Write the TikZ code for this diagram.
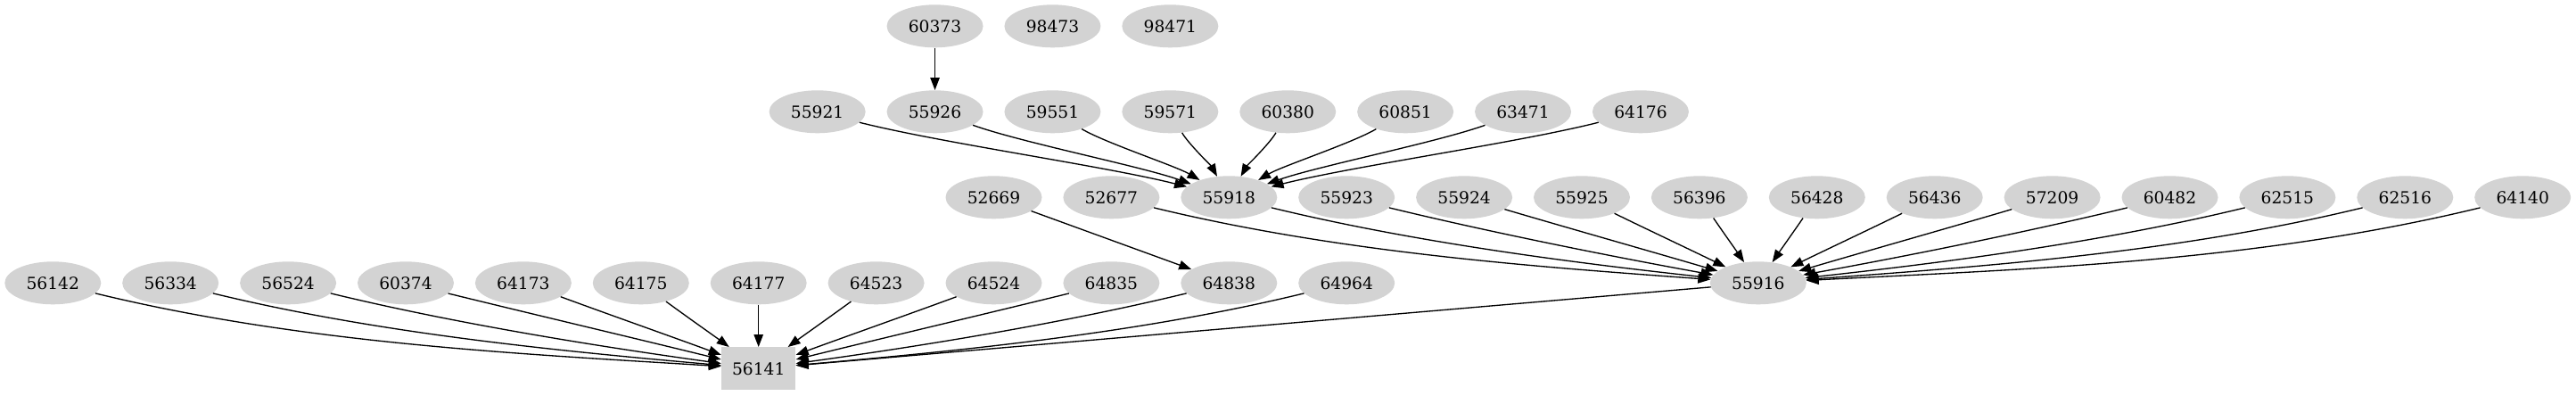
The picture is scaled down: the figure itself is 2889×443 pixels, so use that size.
\documentclass[tikz,border=0pt]{standalone}
\usepackage{fontspec}
\setmainfont{DejaVu Serif}
\usetikzlibrary{shapes.geometric,arrows.meta}
\definecolor{nodegray}{RGB}{211,211,211}
\tikzset{
  el/.style={ellipse,fill=nodegray,draw=none,minimum width=81pt,minimum height=36pt,inner sep=0pt,font=\fontsize{14pt}{16pt}\selectfont},
  bx/.style={rectangle,fill=nodegray,draw=none,minimum width=62.5pt,minimum height=36pt,inner sep=0pt,font=\fontsize{14pt}{16pt}\selectfont},
  edge/.style={draw=black,line width=1pt,-{Triangle[length=10.5pt,width=7.8pt]}}
}
\newcommand\fanedge[3]{%
  \pgfmathsetmacro\fdx{131.9*(#3)}%
  \pgfmathsetmacro\fca{0.35*\fdx}%
  \pgfmathsetmacro\fcc{-0.35*\fdx}%
  \pgfmathsetmacro\fcb{max(34,0.085*abs(\fdx))}%
  \pgfmathsetmacro\fcd{-34*min(1,396/max(abs(\fdx),1))}%
  \draw[edge] (#1) .. controls +(\fca,\fcb) and +(\fcc,\fcd) .. (#2);}
\newcommand\sedge[3]{%
  \pgfmathsetmacro\fdx{131.9*(#3)}%
  \pgfmathsetmacro\fca{0.3*\fdx}%
  \pgfmathsetmacro\fcc{-0.3*\fdx}%
  \draw[edge] (#1) .. controls +(\fca,35) and +(\fcc,-35) .. (#2);}
\newcommand\gx[1]{{59.3+131.9*(#1)}}
\begin{document}
\begin{tikzpicture}[x=0.75pt,y=-0.75pt]
\useasboundingbox (0,0) rectangle (2889,443);
% row 1
\node[el] (n60373) at (\gx{7.5},29.3) {60373};
\node[el] (n98473) at (\gx{8.5},29.3) {98473};
\node[el] (n98471) at (\gx{9.5},29.3) {98471};
% row 2
\node[el] (n55921) at (\gx{6.5},125.3) {55921};
\node[el] (n55926) at (\gx{7.5},125.3) {55926};
\node[el] (n59551) at (\gx{8.5},125.3) {59551};
\node[el] (n59571) at (\gx{9.5},125.3) {59571};
\node[el] (n60380) at (\gx{10.5},125.3) {60380};
\node[el] (n60851) at (\gx{11.5},125.3) {60851};
\node[el] (n63471) at (\gx{12.5},125.3) {63471};
\node[el] (n64176) at (\gx{13.5},125.3) {64176};
% row 3
\node[el] (n52669) at (\gx{8},221.3) {52669};
\node[el] (n52677) at (\gx{9},221.3) {52677};
\node[el] (n55918) at (\gx{10},221.3) {55918};
\node[el] (n55923) at (\gx{11},221.3) {55923};
\node[el] (n55924) at (\gx{12},221.3) {55924};
\node[el] (n55925) at (\gx{13},221.3) {55925};
\node[el] (n56396) at (\gx{14},221.3) {56396};
\node[el] (n56428) at (\gx{15},221.3) {56428};
\node[el] (n56436) at (\gx{16},221.3) {56436};
\node[el] (n57209) at (\gx{17},221.3) {57209};
\node[el] (n60482) at (\gx{18},221.3) {60482};
\node[el] (n62515) at (\gx{19},221.3) {62515};
\node[el] (n62516) at (\gx{20},221.3) {62516};
\node[el] (n64140) at (\gx{21},221.3) {64140};
% row 4
\node[el] (n56142) at (\gx{0},317.3) {56142};
\node[el] (n56334) at (\gx{1},317.3) {56334};
\node[el] (n56524) at (\gx{2},317.3) {56524};
\node[el] (n60374) at (\gx{3},317.3) {60374};
\node[el] (n64173) at (\gx{4},317.3) {64173};
\node[el] (n64175) at (\gx{5},317.3) {64175};
\node[el] (n64177) at (\gx{6},317.3) {64177};
\node[el] (n64523) at (\gx{7},317.3) {64523};
\node[el] (n64524) at (\gx{8},317.3) {64524};
\node[el] (n64835) at (\gx{9},317.3) {64835};
\node[el] (n64838) at (\gx{10},317.3) {64838};
\node[el] (n64964) at (\gx{11},317.3) {64964};
\node[el] (n55916) at (\gx{14.5},317.3) {55916};
% row 5
\node[bx] (n56141) at (\gx{6},413.3) {56141};
% edges
\draw[edge] (n60373) -- (n55926);
\sedge{n55921}{n55918}{3.5}
\sedge{n55926}{n55918}{2.5}
\sedge{n59551}{n55918}{1.5}
\sedge{n59571}{n55918}{0.5}
\sedge{n60380}{n55918}{-0.5}
\sedge{n60851}{n55918}{-1.5}
\sedge{n63471}{n55918}{-2.5}
\sedge{n64176}{n55918}{-3.5}
\draw[edge] (n52669) -- (n64838);
\fanedge{n52677}{n55916}{5.5}
\fanedge{n55918}{n55916}{4.5}
\fanedge{n55923}{n55916}{3.5}
\fanedge{n55924}{n55916}{2.5}
\fanedge{n55925}{n55916}{1.5}
\fanedge{n56396}{n55916}{0.5}
\fanedge{n56428}{n55916}{-0.5}
\fanedge{n56436}{n55916}{-1.5}
\fanedge{n57209}{n55916}{-2.5}
\fanedge{n60482}{n55916}{-3.5}
\fanedge{n62515}{n55916}{-4.5}
\fanedge{n62516}{n55916}{-5.5}
\fanedge{n64140}{n55916}{-6.5}
\fanedge{n56142}{n56141}{6}
\fanedge{n56334}{n56141}{5}
\fanedge{n56524}{n56141}{4}
\fanedge{n60374}{n56141}{3}
\fanedge{n64173}{n56141}{2}
\fanedge{n64175}{n56141}{1}
\fanedge{n64177}{n56141}{0}
\fanedge{n64523}{n56141}{-1}
\fanedge{n64524}{n56141}{-2}
\fanedge{n64835}{n56141}{-3}
\fanedge{n64838}{n56141}{-4}
\fanedge{n64964}{n56141}{-5}
\draw[edge] (n55916) -- (n56141);
\end{tikzpicture}
\end{document}
